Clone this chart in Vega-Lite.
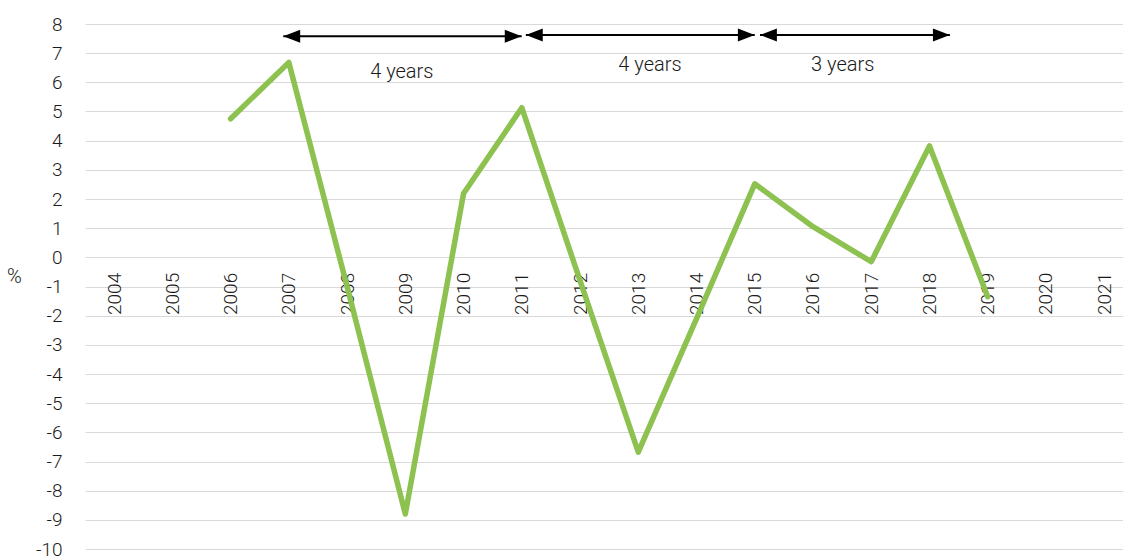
{
  "$schema": "https://vega.github.io/schema/vega-lite/v6.json",
  "width": 1038,
  "height": 525,
  "autosize": {"type": "none"},
  "padding": {"left": 85, "top": 24, "right": 0, "bottom": 10},
  "background": "white",
  "config": {
    "view": {"stroke": null},
    "font": "Roboto",
    "axis": {"labelFont": "Roboto", "titleFont": "Roboto", "labelFontWeight": 300}
  },
  "datasets": {
    "series": [
      {"x": 2006, "y": 4.75},
      {"x": 2007, "y": 6.68},
      {"x": 2008, "y": -1.0},
      {"x": 2009, "y": -8.8},
      {"x": 2010, "y": 2.19},
      {"x": 2011, "y": 5.13},
      {"x": 2012, "y": -0.8},
      {"x": 2013, "y": -6.68},
      {"x": 2014, "y": -2.1},
      {"x": 2015, "y": 2.52},
      {"x": 2016, "y": 1.05},
      {"x": 2017, "y": -0.15},
      {"x": 2018, "y": 3.82},
      {"x": 2019, "y": -1.35}
    ],
    "arrows": [
      {"x": 2006.905, "x2": 2010.998, "y": 7.58},
      {"x": 2011.07, "x2": 2015.0, "y": 7.62},
      {"x": 2015.09, "x2": 2018.35, "y": 7.62}
    ],
    "labels": [
      {"x": 2008.94, "y": 6.36, "text": "4 years"},
      {"x": 2013.2, "y": 6.59, "text": "4 years"},
      {"x": 2016.51, "y": 6.59, "text": "3 years"}
    ]
  },
  "encoding": {
    "x": {
      "field": "x", "type": "quantitative",
      "scale": {"domain": [2003.5, 2021.323], "nice": false, "zero": false},
      "axis": {
        "values": [2004, 2005, 2006, 2007, 2008, 2009, 2010, 2011, 2012, 2013, 2014, 2015, 2016, 2017, 2018, 2019, 2020, 2021],
        "tickCount": 30,
        "labelExpr": "'' + datum.value", "labelAngle": -90, "labelAlign": "right", "labelBaseline": "middle",
        "title": null, "grid": false, "domain": false, "ticks": false, "tickSize": 0,
        "labelPadding": 15, "offset": -291.7, "labelFontSize": 19, "labelColor": "#1a1a1a",
        "labelOverlap": false, "labelFlush": false
      }
    },
    "y": {
      "field": "y", "type": "quantitative",
      "scale": {"domain": [-10, 8], "nice": false, "zero": false},
      "axis": {
        "values": [-10, -9, -8, -7, -6, -5, -4, -3, -2, -1, 0, 1, 2, 3, 4, 5, 6, 7, 8],
        "tickCount": 25,
        "labelExpr": "'' + datum.value",
        "title": "%", "titleAngle": 0, "titleX": -71, "titleY": 252, "titleAlign": "center",
        "titleBaseline": "middle", "titleFontSize": 20, "titleFontWeight": 300, "titleColor": "#1a1a1a",
        "grid": true, "gridColor": "#d9d9d9", "gridWidth": 1.2,
        "domain": false, "ticks": false, "tickSize": 0, "labelPadding": 23,
        "labelFontSize": 19, "labelColor": "#1a1a1a", "labelOverlap": false, "labelFlush": false
      }
    }
  },
  "layer": [
    {
      "data": {"name": "series"},
      "mark": {"type": "line", "color": "#8DC150", "strokeWidth": 5.5, "strokeCap": "round", "strokeJoin": "round"}
    },
    {
      "data": {"name": "arrows"},
      "mark": {"type": "rule", "color": "black", "strokeWidth": 2},
      "encoding": {
        "x2": {"field": "x2"}
      }
    },
    {
      "data": {"name": "arrows"},
      "mark": {"type": "point", "shape": "M0,0L2.6,-1L2.6,1Z", "filled": true, "color": "black", "opacity": 1, "size": 169}
    },
    {
      "data": {"name": "arrows"},
      "mark": {"type": "point", "shape": "M0,0L-2.6,-1L-2.6,1Z", "filled": true, "color": "black", "opacity": 1, "size": 169},
      "encoding": {
        "x": {
          "field": "x2", "type": "quantitative",
          "axis": {
            "values": [2004, 2005, 2006, 2007, 2008, 2009, 2010, 2011, 2012, 2013, 2014, 2015, 2016, 2017, 2018, 2019, 2020, 2021],
            "tickCount": 30,
            "labelExpr": "'' + datum.value", "labelAngle": -90, "labelAlign": "right", "labelBaseline": "middle",
            "title": null, "grid": false, "domain": false, "ticks": false, "tickSize": 0,
            "labelPadding": 15, "offset": -291.7, "labelFontSize": 19, "labelColor": "#1a1a1a",
            "labelOverlap": false, "labelFlush": false
          }
        }
      }
    },
    {
      "data": {"name": "labels"},
      "mark": {"type": "text", "fontSize": 20, "fontWeight": 300, "color": "#1a1a1a", "align": "center", "baseline": "middle", "font": "Roboto"},
      "encoding": {
        "text": {"field": "text"}
      }
    }
  ]
}
